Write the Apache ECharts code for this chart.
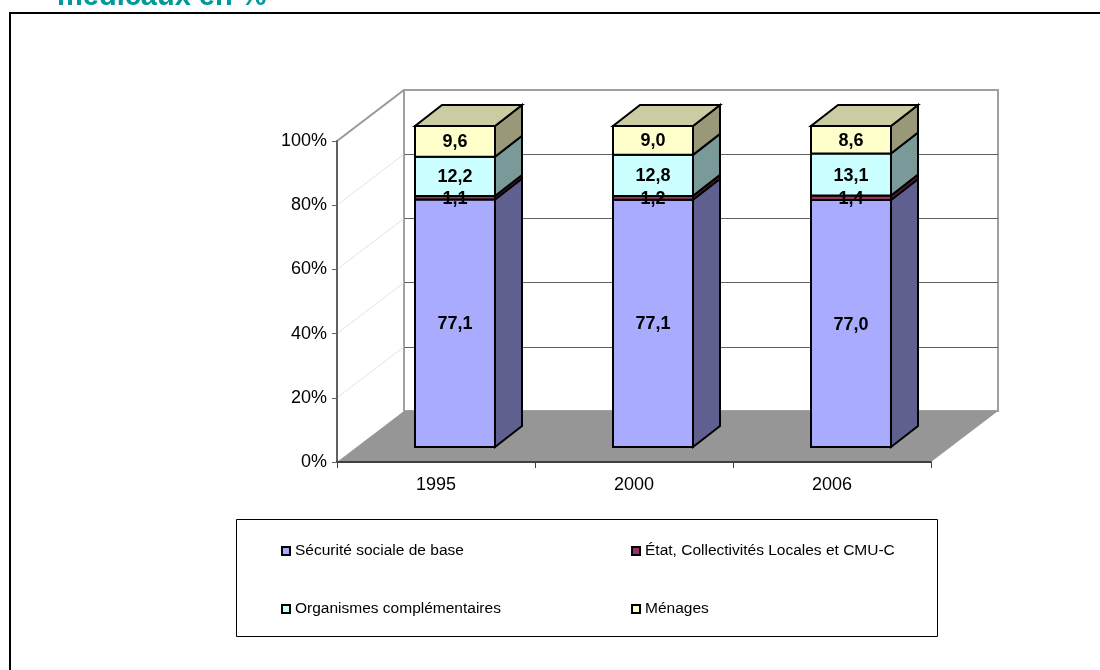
<!DOCTYPE html>
<html>
<head>
<meta charset="utf-8">
<script src="https://cdn.jsdelivr.net/npm/echarts@6/dist/echarts.min.js"></script>
<style>
  html, body { margin: 0; background: #fff; }
  #main { width: 1100px; height: 670px; }
</style>
</head>
<body>
<div id="main"></div>
<script>
var years = ['1995', '2000', '2006']
var yTicks = [0, 20, 40, 60, 80, 100]
var securite = [77.1, 77.1, 77.0]
var etat = [1.1, 1.2, 1.4]
var organismes = [12.2, 12.8, 13.1]
var menages = [9.6, 9.0, 8.6]

var font = '"Liberation Sans", Arial, sans-serif'
var stackList = [
  {name: 'Sécurité sociale de base', values: securite, color: '#A9ABFF', side: '#606090'},
  {name: 'État, Collectivités Locales et CMU-C', values: etat, color: '#993366', side: '#5C1F3D'},
  {name: 'Organismes complémentaires', values: organismes, color: '#CCFFFF', side: '#7A9999'},
  {name: 'Ménages', values: menages, color: '#FFFFCC', side: '#99997A', top: '#CCCCA3'}
]

// repere 3D : decalage du mur du fond et des barres (pixels)
var depth = [67, -51]
var barShift = [19, -15]
var barDepth = [27, -21]
var barRatio = 0.404

var plot = {left: 337, top: 141, width: 594, height: 321}

function quad (a, b, c, d, fill, stroke, width) {
  return {
    type: 'polygon',
    shape: {points: [a, b, c, d]},
    style: {fill: fill, stroke: stroke, lineWidth: width}
  }
}

function plus (p, d) {
  return [p[0] + d[0], p[1] + d[1]]
}

function renderFloor (params, api) {
  var band = api.size([1, 0])[0]
  var a = api.coord([0, 0])
  a[0] -= band / 2
  var b = [a[0] + band * years.length, a[1]]
  return quad(a, b, plus(b, depth), plus(a, depth), '#969696')
}

function renderWall (params, api) {
  var value = api.value(0)
  var from = api.coord([0, value])
  from[0] -= api.size([1, 0])[0] / 2
  var to = plus(from, depth)
  var isTop = value === 100
  return {
    type: 'line',
    shape: {x1: from[0], y1: from[1], x2: to[0], y2: to[1]},
    style: {stroke: isTop ? '#999999' : '#E4E4E4', lineWidth: isTop ? 2 : 1}
  }
}

function renderBar (item) {
  return function (params, api) {
    var cat = api.value(0)
    var half = api.size([1, 0])[0] * barRatio / 2
    var low = plus(api.coord([cat, api.value(1)]), barShift)
    var high = plus(api.coord([cat, api.value(2)]), barShift)
    var ld = [low[0] - half, low[1]]
    var rd = [low[0] + half, low[1]]
    var lh = [high[0] - half, high[1]]
    var rh = [high[0] + half, high[1]]
    var children = [
      quad(rd, rh, plus(rh, barDepth), plus(rd, barDepth), item.side, '#000', 2),
      quad(ld, rd, rh, lh, item.color, '#000', 2)
    ]
    if (item.top) {
      children.push(quad(lh, rh, plus(rh, barDepth), plus(lh, barDepth), item.top, '#000', 2))
    }
    children.push({
      type: 'text',
      z2: 10,
      style: {
        x: high[0],
        y: (low[1] + high[1]) / 2 + 1,
        text: api.value(3).toFixed(1).replace('.', ','),
        font: 'bold 18px ' + font,
        fill: '#000',
        align: 'center',
        verticalAlign: 'middle'
      }
    })
    return {type: 'group', children: children}
  }
}

var barSeries = stackList.map(function (item, s) {
  var data = years.map(function (year, i) {
    var total = 0
    var base = 0
    stackList.forEach(function (other, k) {
      total += other.values[i]
      if (k < s) base += other.values[i]
    })
    var scale = 100 / total
    return [i, base * scale, (base + item.values[i]) * scale, item.values[i]]
  })
  return {
    name: item.name,
    type: 'custom',
    xAxisIndex: 0,
    yAxisIndex: 0,
    clip: false,
    z: 5,
    itemStyle: {color: item.color, borderColor: '#000', borderWidth: 1.5},
    renderItem: renderBar(item),
    data: data
  }
})

var legendBase = {
  orient: 'vertical',
  top: 538,
  itemWidth: 8,
  itemHeight: 8,
  itemGap: 42,
  icon: 'rect',
  textStyle: {color: '#000', fontSize: 15.5, fontFamily: font}
}

var option = {
  backgroundColor: '#fff',
  animation: false,
  textStyle: {fontFamily: font},
  title: {
    text: 'médicaux en %',
    left: 52,
    top: -23,
    textStyle: {color: '#009999', fontSize: 29, fontWeight: 'bold', fontFamily: font}
  },
  grid: [
    {left: plot.left, top: plot.top, width: plot.width, height: plot.height},
    {
      left: plot.left + depth[0],
      top: plot.top + depth[1],
      width: plot.width,
      height: plot.height,
      show: true,
      borderColor: '#A0A0A0',
      borderWidth: 2,
      backgroundColor: 'transparent'
    }
  ],
  xAxis: [
    {
      type: 'category',
      data: years,
      gridIndex: 0,
      axisLine: {lineStyle: {color: '#404040', width: 2}},
      axisTick: {show: true, length: 6, alignWithLabel: false, lineStyle: {color: '#404040'}},
      axisLabel: {color: '#000', fontSize: 18, margin: 14, fontFamily: font},
      z: 6
    },
    {type: 'category', data: years, gridIndex: 1, show: false}
  ],
  yAxis: [
    {
      type: 'value',
      min: 0,
      max: 100,
      interval: 20,
      gridIndex: 0,
      axisLine: {show: true, lineStyle: {color: '#606060', width: 2}},
      axisTick: {show: true, length: 5, lineStyle: {color: '#606060'}},
      axisLabel: {color: '#000', fontSize: 18, margin: 10, padding: [2, 0, 0, 0], formatter: '{value}%', fontFamily: font},
      splitLine: {show: false},
      z: 6
    },
    {
      type: 'value',
      min: 0,
      max: 100,
      interval: 20,
      gridIndex: 1,
      axisLine: {show: false},
      axisTick: {show: false},
      axisLabel: {show: false},
      splitLine: {show: true, showMinLine: false, showMaxLine: false, lineStyle: {color: '#606060', width: 1}}
    }
  ],
  legend: [
    Object.assign({}, legendBase, {left: 276, data: [stackList[0].name, stackList[2].name]}),
    Object.assign({}, legendBase, {left: 626, data: [stackList[1].name, stackList[3].name]})
  ],
  graphic: [
    {
      type: 'polyline',
      shape: {points: [[10, 670], [10, 13], [1100, 13]]},
      style: {fill: 'none', stroke: '#000', lineWidth: 2},
      silent: true
    },
    {
      type: 'rect',
      shape: {x: 236.5, y: 519.5, width: 701, height: 117},
      style: {fill: 'none', stroke: '#000', lineWidth: 1},
      silent: true
    }
  ],
  series: [
    {
      type: 'custom',
      xAxisIndex: 0,
      yAxisIndex: 0,
      clip: false,
      z: 3,
      renderItem: renderFloor,
      data: [[0]],
      silent: true
    },
    {
      type: 'custom',
      xAxisIndex: 0,
      yAxisIndex: 0,
      clip: false,
      z: 2,
      renderItem: renderWall,
      data: yTicks.filter(function (v) { return v > 0 }).map(function (v) { return [v] }),
      encode: {y: 0},
      silent: true
    }
  ].concat(barSeries)
}

var mychart = echarts.init(document.getElementById('main'))
mychart.setOption(option)
</script>
</body>
</html>
